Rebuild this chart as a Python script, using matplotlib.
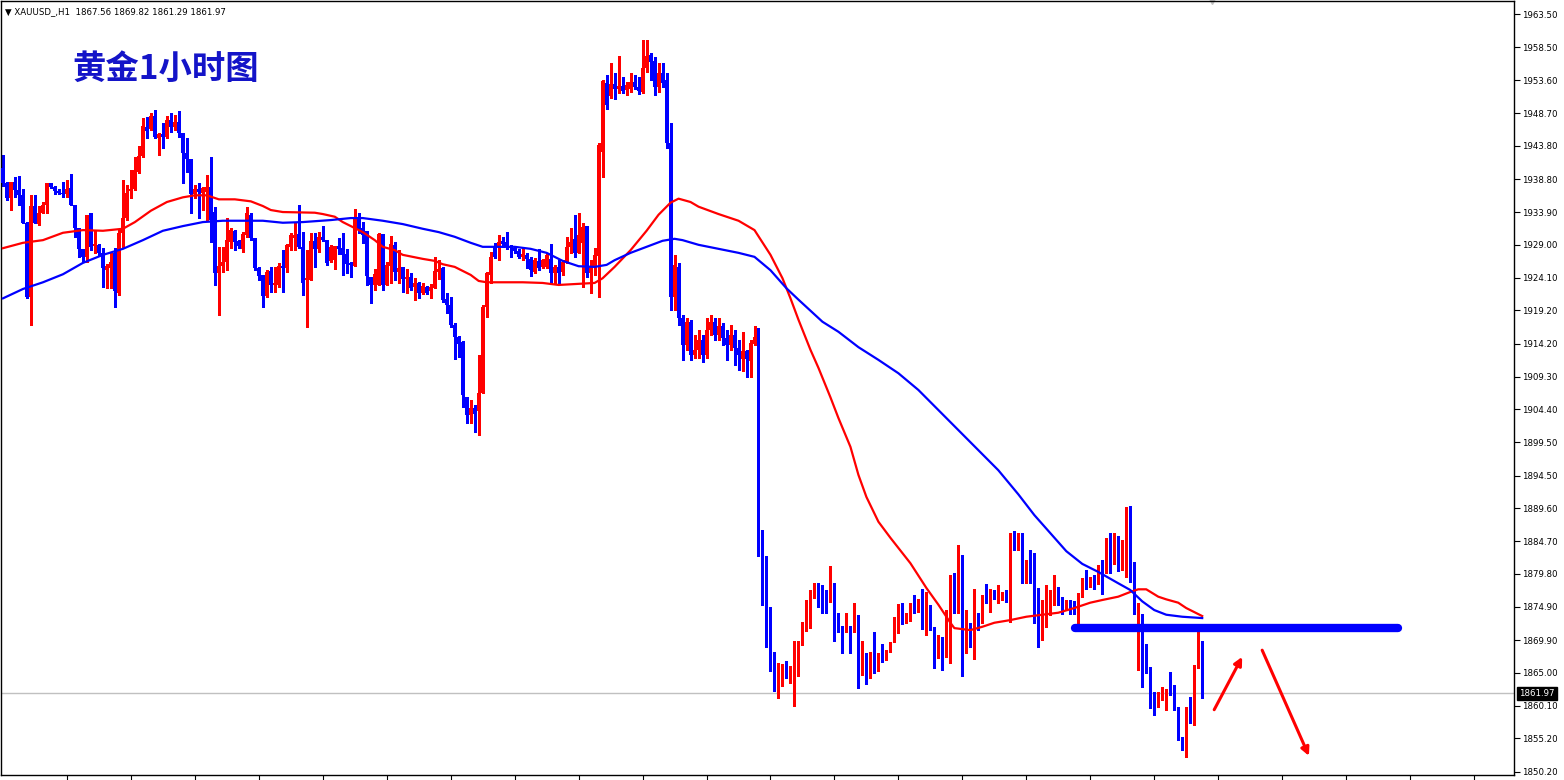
import matplotlib
matplotlib.use('Agg')
import matplotlib.pyplot as plt
import matplotlib.transforms as mtransforms
import numpy as np

plt.rcParams['font.family'] = ['DejaVu Sans']

# XAUUSD H1 candles
opens = [
    1940.5, 1938.2, 1936.0, 1938.4, 1937.2, 1936.4, 1932.3, 1921.2, 1934.8, 1932.1,
    1933.8, 1934.9, 1938.2, 1937.6, 1937.0, 1936.7, 1936.6, 1937.5, 1934.9, 1931.5,
    1928.4, 1927.2, 1933.8, 1928.8, 1929.0, 1927.8, 1925.2, 1925.5, 1927.8, 1921.8,
    1930.8, 1933.0, 1937.0, 1937.4, 1939.9, 1942.3, 1946.6, 1946.3, 1948.3, 1945.0,
    1945.6, 1945.1, 1947.7, 1946.6, 1947.4, 1945.7, 1942.7, 1941.8, 1936.6, 1937.4,
    1936.7, 1936.9, 1937.6, 1933.9, 1924.8, 1925.8, 1926.4, 1929.4, 1931.1, 1929.6,
    1928.4, 1930.5, 1933.5, 1930.0, 1925.5, 1924.5, 1921.3, 1925.1, 1923.0, 1923.0,
    1925.8, 1925.5, 1928.7, 1930.0, 1930.6, 1928.7, 1923.7, 1923.7, 1929.6, 1928.4,
    1930.2, 1929.7, 1926.6, 1926.7, 1928.8, 1928.5, 1927.6, 1926.3, 1925.8, 1933.2,
    1931.5, 1931.1, 1924.2, 1923.0, 1923.0, 1930.6, 1923.0, 1925.8, 1929.0, 1924.9,
    1925.7, 1923.9, 1924.2, 1922.7, 1923.3, 1921.8, 1922.7, 1922.1, 1922.5, 1924.9,
    1925.5, 1920.9, 1920.0, 1917.0, 1915.2, 1914.5, 1906.2, 1903.6, 1904.6, 1904.2,
    1906.8, 1919.7, 1924.5, 1928.7, 1928.7, 1929.6, 1929.4, 1928.8, 1928.5, 1928.1,
    1927.2, 1927.5, 1926.9, 1924.9, 1926.6, 1925.7, 1925.7, 1926.9, 1924.8, 1925.7,
    1924.9, 1926.4, 1928.7, 1929.9, 1927.8, 1929.3, 1931.8, 1924.8, 1925.7, 1927.3,
    1942.9, 1953.2, 1951.2, 1953.0, 1952.3, 1952.7, 1952.1, 1952.3, 1953.3, 1952.6,
    1951.8, 1955.4, 1957.4, 1956.5, 1952.6, 1954.7, 1953.6, 1944.2, 1921.2, 1925.7,
    1918.1, 1914.0, 1917.5, 1912.5, 1913.3, 1914.8, 1912.5, 1916.3, 1917.5, 1915.5,
    1916.9, 1915.1, 1914.0, 1915.5, 1913.6, 1911.9, 1913.1, 1911.6, 1914.2, 1915.1,
    1886.4, 1882.5, 1872.9, 1868.1, 1862.9, 1865.0, 1865.7, 1865.0, 1860.2, 1865.0,
    1869.2, 1872.3, 1873.1, 1876.2, 1878.4, 1877.8, 1876.4, 1875.6, 1877.8, 1872.9,
    1872.0, 1871.3, 1872.0, 1871.3, 1873.7, 1865.6, 1866.2, 1865.4, 1868.0, 1865.3,
    1868.6, 1866.9, 1868.1, 1869.6, 1873.2, 1874.3, 1872.5, 1872.9, 1874.9, 1874.1,
    1875.7, 1872.0, 1873.2, 1871.9, 1867.4, 1870.4, 1869.5, 1870.8, 1879.5, 1874.3,
    1880.5, 1869.0, 1871.6, 1870.1, 1873.1, 1872.5, 1876.4, 1875.6, 1876.8, 1876.0,
    1876.6, 1876.8, 1875.6, 1886.2, 1883.7, 1885.9, 1879.8, 1879.9, 1879.6, 1877.5,
    1873.2, 1874.4, 1875.2, 1875.5, 1877.8, 1876.0, 1874.9, 1875.5, 1875.3, 1873.8,
    1876.5, 1878.9, 1878.3, 1879.3, 1878.7, 1880.7, 1880.1, 1883.8, 1882.8, 1885.5,
    1881.7, 1881.7, 1889.4, 1879.2, 1873.8, 1873.8, 1868.1, 1865.9, 1861.7, 1860.6,
    1861.4, 1862.0, 1862.6, 1861.8, 1859.8, 1855.3, 1853.8, 1859.9, 1859.0, 1866.0,
    1867.56,
]
highs = [
    1942.4, 1938.4, 1938.4, 1939.1, 1939.3, 1937.4, 1932.4, 1936.4, 1936.4, 1934.8,
    1935.4, 1938.2, 1938.2, 1937.8, 1937.4, 1938.4, 1938.7, 1939.6, 1934.9, 1931.5,
    1928.4, 1933.5, 1933.8, 1931.2, 1929.1, 1928.5, 1926.1, 1927.8, 1928.5, 1931.2,
    1938.7, 1937.9, 1940.2, 1942.1, 1943.8, 1948.0, 1948.1, 1948.7, 1949.2, 1945.7,
    1947.2, 1948.3, 1948.7, 1948.4, 1949.0, 1945.7, 1945.0, 1941.8, 1937.9, 1938.2,
    1937.6, 1939.4, 1942.1, 1934.7, 1928.7, 1928.7, 1933.0, 1931.5, 1931.2, 1929.7,
    1930.9, 1934.7, 1933.8, 1930.0, 1925.7, 1924.5, 1925.2, 1925.7, 1925.7, 1926.3,
    1928.2, 1929.1, 1930.8, 1932.3, 1934.9, 1930.9, 1928.2, 1930.8, 1930.8, 1930.9,
    1931.8, 1929.7, 1929.0, 1928.8, 1930.0, 1930.8, 1928.4, 1926.4, 1934.4, 1933.8,
    1932.4, 1931.1, 1924.2, 1925.4, 1930.8, 1930.6, 1926.4, 1930.3, 1929.4, 1928.2,
    1925.7, 1925.4, 1924.8, 1924.0, 1923.4, 1923.3, 1922.9, 1923.1, 1927.2, 1926.7,
    1925.7, 1921.8, 1921.2, 1917.3, 1915.4, 1914.6, 1906.2, 1905.8, 1905.1, 1912.5,
    1920.0, 1924.9, 1927.9, 1929.3, 1930.5, 1930.2, 1930.9, 1929.0, 1928.8, 1928.4,
    1928.7, 1927.8, 1927.2, 1927.0, 1928.4, 1926.9, 1927.8, 1929.1, 1926.0, 1926.7,
    1926.7, 1930.2, 1931.5, 1933.5, 1933.8, 1932.3, 1931.8, 1926.7, 1928.5, 1944.2,
    1953.6, 1954.4, 1956.2, 1954.7, 1957.2, 1954.1, 1953.3, 1954.7, 1954.4, 1954.1,
    1959.6, 1959.6, 1957.7, 1957.1, 1956.2, 1956.2, 1954.7, 1947.2, 1927.5, 1926.3,
    1918.5, 1918.1, 1917.8, 1915.5, 1916.3, 1915.5, 1918.1, 1918.5, 1918.1, 1918.1,
    1917.3, 1916.3, 1917.0, 1916.3, 1914.8, 1916.0, 1913.3, 1914.8, 1916.9, 1916.6,
    1886.4, 1882.5, 1874.9, 1868.1, 1866.5, 1866.3, 1866.8, 1866.0, 1869.8, 1869.8,
    1872.6, 1875.9, 1877.4, 1878.4, 1878.4, 1878.1, 1877.4, 1881.0, 1878.4, 1874.0,
    1872.0, 1874.0, 1872.0, 1875.5, 1873.7, 1869.8, 1868.0, 1868.1, 1871.1, 1868.0,
    1869.3, 1868.4, 1869.6, 1873.4, 1875.3, 1875.5, 1874.0, 1875.5, 1876.6, 1876.0,
    1877.5, 1877.1, 1875.2, 1871.9, 1870.7, 1870.4, 1874.4, 1879.6, 1879.9, 1884.1,
    1882.6, 1874.4, 1872.5, 1877.5, 1874.0, 1876.6, 1878.3, 1877.5, 1877.4, 1878.1,
    1877.1, 1877.4, 1885.9, 1886.2, 1885.9, 1885.9, 1881.9, 1883.4, 1882.9, 1877.7,
    1875.9, 1878.1, 1877.4, 1879.6, 1877.8, 1876.3, 1875.9, 1875.9, 1875.8, 1877.0,
    1879.2, 1880.4, 1879.3, 1879.6, 1881.1, 1881.9, 1885.2, 1885.9, 1885.9, 1885.5,
    1884.9, 1889.8, 1889.9, 1881.6, 1875.5, 1873.8, 1869.3, 1865.9, 1862.1, 1862.1,
    1862.9, 1862.6, 1865.1, 1863.2, 1859.9, 1855.4, 1859.9, 1861.4, 1866.2, 1871.1,
    1869.82,
]
lows = [
    1937.8, 1935.7, 1934.2, 1936.1, 1934.9, 1932.3, 1921.0, 1917.0, 1932.3, 1932.0,
    1933.8, 1933.8, 1937.5, 1936.6, 1936.6, 1936.1, 1936.1, 1934.9, 1930.2, 1927.2,
    1926.4, 1926.4, 1928.2, 1927.8, 1927.5, 1922.7, 1922.5, 1922.5, 1919.7, 1921.5,
    1928.7, 1932.7, 1936.0, 1937.2, 1939.7, 1942.1, 1945.0, 1946.2, 1945.0, 1942.4,
    1943.5, 1945.0, 1945.9, 1946.2, 1945.1, 1938.2, 1939.9, 1933.8, 1936.0, 1933.0,
    1934.2, 1932.7, 1929.4, 1923.0, 1918.5, 1924.9, 1925.2, 1928.5, 1928.2, 1928.5,
    1927.9, 1930.2, 1929.7, 1925.2, 1923.7, 1919.7, 1921.2, 1921.9, 1921.9, 1922.7,
    1921.9, 1924.9, 1928.2, 1928.2, 1928.5, 1921.5, 1916.7, 1923.7, 1925.7, 1927.9,
    1929.6, 1926.0, 1926.4, 1925.4, 1927.6, 1924.5, 1924.8, 1924.2, 1925.8, 1930.8,
    1929.3, 1923.0, 1920.3, 1922.2, 1923.0, 1922.2, 1923.0, 1923.3, 1923.7, 1923.3,
    1921.9, 1921.8, 1922.2, 1920.8, 1921.0, 1921.6, 1921.6, 1921.0, 1922.5, 1923.9,
    1920.5, 1918.8, 1916.7, 1911.9, 1912.2, 1904.8, 1902.4, 1902.4, 1901.0, 1900.6,
    1906.8, 1918.2, 1923.3, 1927.0, 1926.7, 1928.7, 1928.4, 1927.2, 1927.8, 1927.0,
    1926.7, 1925.5, 1924.3, 1924.8, 1925.2, 1925.5, 1925.5, 1923.3, 1923.3, 1923.3,
    1924.5, 1926.3, 1927.8, 1927.2, 1927.8, 1922.7, 1924.2, 1921.8, 1924.5, 1921.2,
    1939.1, 1949.3, 1950.9, 1950.8, 1951.7, 1951.7, 1951.4, 1951.9, 1952.3, 1951.5,
    1951.7, 1954.8, 1953.6, 1951.4, 1951.9, 1952.6, 1943.5, 1919.3, 1919.3, 1917.0,
    1911.8, 1913.3, 1911.8, 1912.1, 1912.1, 1911.5, 1912.1, 1915.5, 1914.8, 1914.8,
    1914.0, 1911.8, 1913.3, 1911.0, 1910.3, 1910.1, 1909.2, 1909.2, 1914.0, 1882.5,
    1875.2, 1868.9, 1865.3, 1862.3, 1861.2, 1863.0, 1864.2, 1863.5, 1860.1, 1864.5,
    1869.2, 1871.3, 1871.7, 1876.2, 1874.9, 1874.0, 1874.0, 1875.6, 1869.8, 1871.1,
    1868.0, 1871.1, 1868.0, 1871.1, 1862.7, 1864.7, 1863.3, 1864.2, 1865.0, 1865.3,
    1866.6, 1866.9, 1868.1, 1869.6, 1871.0, 1872.3, 1872.5, 1872.8, 1874.0, 1874.1,
    1871.6, 1870.7, 1871.4, 1865.7, 1867.2, 1865.4, 1867.4, 1866.5, 1874.0, 1874.0,
    1864.5, 1868.0, 1868.9, 1867.1, 1871.4, 1872.5, 1875.5, 1874.1, 1876.0, 1875.5,
    1875.9, 1875.6, 1872.6, 1883.4, 1883.4, 1878.4, 1878.4, 1878.4, 1872.5, 1868.9,
    1869.9, 1871.9, 1873.7, 1875.2, 1875.2, 1873.8, 1874.4, 1873.8, 1873.8, 1871.9,
    1876.4, 1877.5, 1877.8, 1877.5, 1878.3, 1876.8, 1879.9, 1879.9, 1881.3, 1880.2,
    1880.4, 1879.3, 1878.6, 1873.8, 1865.4, 1862.9, 1865.0, 1859.8, 1858.7, 1859.9,
    1860.9, 1859.5, 1861.7, 1859.5, 1855.0, 1853.5, 1852.4, 1857.5, 1857.2, 1865.7,
    1861.29,
]
closes = [
    1938.2, 1936.0, 1938.4, 1937.2, 1936.4, 1932.3, 1921.2, 1934.8, 1932.3, 1933.8,
    1934.9, 1938.2, 1937.6, 1937.0, 1936.7, 1936.6, 1937.4, 1934.9, 1931.5, 1928.4,
    1927.2, 1933.5, 1928.7, 1929.1, 1927.8, 1925.5, 1925.8, 1926.4, 1922.1, 1930.8,
    1933.0, 1936.7, 1937.4, 1940.2, 1942.3, 1946.8, 1946.0, 1948.3, 1945.1, 1945.6,
    1945.1, 1947.7, 1946.6, 1947.4, 1945.7, 1942.7, 1941.8, 1936.6, 1937.4, 1936.9,
    1937.5, 1937.6, 1932.7, 1924.8, 1925.8, 1926.4, 1929.7, 1931.2, 1929.4, 1928.8,
    1930.6, 1933.8, 1930.0, 1925.5, 1924.3, 1921.3, 1924.9, 1923.0, 1923.3, 1925.8,
    1925.5, 1929.0, 1930.5, 1930.5, 1928.7, 1923.3, 1924.0, 1929.6, 1928.4, 1930.2,
    1929.7, 1926.3, 1928.7, 1928.8, 1928.4, 1927.5, 1926.1, 1926.0, 1933.2, 1931.2,
    1930.5, 1924.3, 1923.0, 1924.6, 1930.6, 1923.0, 1926.0, 1929.1, 1924.9, 1925.5,
    1923.9, 1924.2, 1922.5, 1923.3, 1921.8, 1922.9, 1921.8, 1922.7, 1925.1, 1925.4,
    1920.8, 1920.0, 1917.0, 1915.2, 1914.2, 1906.5, 1903.6, 1904.6, 1903.7, 1906.8,
    1919.7, 1924.8, 1927.2, 1927.2, 1929.4, 1929.1, 1928.7, 1928.5, 1928.1, 1927.2,
    1927.6, 1926.9, 1925.2, 1926.7, 1925.5, 1926.7, 1927.5, 1924.8, 1925.7, 1924.8,
    1926.4, 1928.7, 1929.4, 1927.8, 1930.5, 1931.7, 1924.8, 1925.7, 1927.5, 1943.9,
    1953.5, 1949.9, 1953.0, 1952.3, 1952.7, 1952.0, 1952.9, 1953.3, 1952.6, 1952.0,
    1955.4, 1957.2, 1956.3, 1952.6, 1954.7, 1953.2, 1944.2, 1921.2, 1926.0, 1918.1,
    1914.0, 1917.5, 1912.5, 1913.3, 1914.8, 1912.5, 1916.3, 1917.5, 1915.5, 1916.9,
    1915.1, 1914.0, 1915.5, 1913.6, 1912.5, 1913.1, 1911.9, 1914.3, 1915.2, 1886.5,
    1882.3, 1872.8, 1868.0, 1863.0, 1865.0, 1865.6, 1864.4, 1865.7, 1865.3, 1869.6,
    1872.6, 1873.4, 1876.4, 1878.4, 1877.7, 1876.2, 1875.5, 1878.0, 1872.9, 1871.9,
    1871.3, 1872.0, 1871.3, 1873.7, 1865.4, 1866.2, 1865.6, 1868.0, 1865.4, 1868.0,
    1867.2, 1868.1, 1869.6, 1873.4, 1874.3, 1872.5, 1873.1, 1874.7, 1874.1, 1876.0,
    1872.0, 1873.2, 1871.7, 1867.1, 1870.4, 1869.0, 1870.8, 1879.2, 1874.3, 1880.5,
    1868.9, 1871.6, 1871.1, 1873.5, 1872.5, 1876.4, 1875.6, 1877.0, 1876.2, 1877.0,
    1876.8, 1875.9, 1885.9, 1883.7, 1885.8, 1880.4, 1880.7, 1879.3, 1877.5, 1873.2,
    1874.4, 1875.5, 1876.2, 1877.7, 1875.6, 1874.4, 1875.3, 1874.7, 1874.0, 1876.8,
    1878.7, 1878.3, 1879.3, 1878.9, 1880.7, 1880.1, 1883.7, 1882.8, 1885.3, 1881.7,
    1882.0, 1889.4, 1879.2, 1874.0, 1874.0, 1865.4, 1865.9, 1861.7, 1860.5, 1861.4,
    1862.1, 1862.6, 1861.8, 1859.8, 1855.1, 1853.8, 1859.9, 1859.0, 1866.0, 1867.5,
    1861.97,
]

# moving averages, sampled along the bar index
ma_fast_idx = [0, 5, 10, 15, 20, 25, 30, 33, 37, 41, 45, 48, 51, 54, 58, 62, 65, 67, 70, 78,
               80, 83, 85, 88, 90, 93, 95, 98, 100, 105, 108, 110, 113, 117, 119, 121, 130, 135, 139, 142,
               148, 150, 153, 157, 161, 164, 167, 169, 172, 174, 179, 184, 188, 192, 195, 197, 199, 202, 204, 207,
               209, 212, 214, 216, 219, 222, 227, 231, 234, 237, 238, 242, 245, 248, 252, 256, 260, 264, 268, 272,
               275, 279, 282, 284, 286, 289, 291, 294, 296, 299, 300]
ma_fast = [1928.5, 1929.3, 1929.7, 1930.8, 1931.2, 1931.1, 1931.4, 1932.4, 1934.1, 1935.4,
           1936.1, 1936.4, 1936.4, 1935.8, 1935.8, 1935.5, 1934.8, 1934.2, 1933.9, 1933.8,
           1933.6, 1933.2, 1932.4, 1931.5, 1930.9, 1929.7, 1928.7, 1928.2, 1927.5, 1926.9,
           1926.6, 1926.1, 1925.7, 1924.5, 1923.6, 1923.4, 1923.4, 1923.3, 1923.0, 1923.1,
           1923.3, 1924.0, 1925.7, 1928.2, 1931.1, 1933.5, 1935.3, 1935.9, 1935.4, 1934.7,
           1933.6, 1932.6, 1931.2, 1927.5, 1924.0, 1921.0, 1917.8, 1913.3, 1910.6, 1906.2,
           1903.1, 1898.8, 1894.6, 1891.3, 1887.6, 1885.2, 1881.4, 1877.7, 1875.2, 1872.5,
           1871.7, 1871.4, 1871.9, 1872.5, 1872.9, 1873.4, 1873.7, 1874.0, 1874.7, 1875.5,
           1875.9, 1876.4, 1877.1, 1877.5, 1877.5, 1876.4, 1876.0, 1875.5, 1874.7, 1873.8,
           1873.5]
ma_slow_idx = [0, 5, 10, 15, 20, 25, 30, 35, 40, 45, 50, 55, 65, 70, 75, 82, 87, 90, 95, 100,
               105, 109, 113, 117, 120, 128, 132, 136, 140, 144, 148, 151, 153, 157, 161, 165, 168, 170, 174, 179,
               184, 188, 192, 196, 199, 205, 209, 214, 219, 224, 229, 234, 239, 244, 249, 254, 258, 262, 266, 270,
               274, 279, 282, 285, 288, 291, 295, 300]
ma_slow = [1921.0, 1922.4, 1923.4, 1924.6, 1926.3, 1927.5, 1928.4, 1929.7, 1931.1, 1931.8,
           1932.4, 1932.6, 1932.6, 1932.3, 1932.4, 1932.7, 1933.0, 1933.0, 1932.6, 1932.1,
           1931.4, 1930.9, 1930.2, 1929.3, 1928.7, 1928.7, 1928.4, 1927.8, 1926.6, 1925.8,
           1925.7, 1926.0, 1926.7, 1927.8, 1928.7, 1929.6, 1929.9, 1929.7, 1929.0, 1928.4,
           1927.8, 1927.2, 1925.2, 1922.5, 1920.8, 1917.5, 1916.0, 1913.7, 1911.8, 1909.8,
           1907.3, 1904.3, 1901.3, 1898.3, 1895.3, 1891.7, 1888.6, 1885.9, 1883.2, 1881.3,
           1880.1, 1878.4, 1877.4, 1875.7, 1874.4, 1873.7, 1873.4, 1873.2]

# hand drawn annotations (bar index, price)
level_price = 1871.7
level_span = [268.3, 349.0]
arrow_up = [(303.0, 1859.5), (310.0, 1867.4)]
arrow_down = [(315.0, 1868.4), (326.7, 1852.6)]

ytick_vals = [1963.50, 1958.50, 1953.60, 1948.70, 1943.80, 1938.80, 1933.90, 1929.00,
              1924.10, 1919.20, 1914.20, 1909.30, 1904.40, 1899.50, 1894.50, 1889.60,
              1884.70, 1879.80, 1874.90, 1869.90, 1865.00, 1860.10, 1855.20, 1850.20]

header = '\u25bc XAUUSD_,H1  1867.56 1869.82 1861.29 1861.97'
title = '黄金1小时图'

o = np.array(opens)
h = np.array(highs)
l = np.array(lows)
c = np.array(closes)
x = np.arange(len(c))
cols = np.where(c >= o, '#ff0000', '#0000ff')

fig = plt.figure(figsize=(15.64, 7.8), dpi=100)
ax = fig.add_axes([1 / 1564, 5 / 780, 1513 / 1564, 774 / 780])

ax.axhline(c[-1], color='#c0c0c0', lw=1, zorder=1)
ax.vlines(x, l, h, colors=cols, lw=1.0, zorder=2, antialiased=False)
ax.bar(x, np.maximum(np.abs(c - o), 0.15), bottom=np.minimum(o, c), width=0.78,
       color=cols, linewidth=0, zorder=3, antialiased=False)

ax.plot(ma_fast_idx, ma_fast, color='#ff0000', lw=1.6, zorder=4)
ax.plot(ma_slow_idx, ma_slow, color='#0000ff', lw=1.6, zorder=4)

ax.plot(level_span, [level_price, level_price], color='#0000ff', lw=6,
        solid_capstyle='round', zorder=5)
for (x0, y0), (x1, y1) in [arrow_up, arrow_down]:
    ax.annotate('', xy=(x1, y1), xytext=(x0, y0),
                arrowprops=dict(arrowstyle='-|>', color='#ff0000', lw=2.2,
                                mutation_scale=12, shrinkA=0, shrinkB=0), zorder=6)

ax.set_xlim(-0.5, 378)
ax.set_ylim(1849.74, 1965.45)

ax.yaxis.tick_right()
ax.set_yticks(ytick_vals)
ax.set_yticklabels(['%.2f' % v for v in ytick_vals])
ax.tick_params(axis='y', direction='out', length=4, width=0.8, pad=2, labelsize=6.2)
ax.set_xticks(np.arange(16, 378, 16))
ax.tick_params(axis='x', direction='out', length=4, width=0.8, labelbottom=False)
for s in ax.spines.values():
    s.set_color('black')
    s.set_linewidth(1)

# current price tag
tr = mtransforms.blended_transform_factory(ax.transAxes, ax.transData)
ax.text(1.0035, c[-1], '%.2f' % c[-1], transform=tr, color='white', fontsize=6.2,
        va='center', ha='left', clip_on=False,
        bbox=dict(facecolor='black', edgecolor='black', pad=1.4))

# small shift marker at the top
ax.plot([len(c) + 1.5], [1], marker='v', color='#c0c0c0', markersize=5,
        transform=mtransforms.blended_transform_factory(ax.transData, ax.transAxes),
        clip_on=False)

fig.text(5 / 1564, 1 - 12 / 780, header, fontsize=6.2, va='center', ha='left')
fig.text(72 / 1564, 1 - 69 / 780, title, fontsize=24, fontweight='bold', color='#1414c8',
         family=['Noto Sans CJK SC', 'DejaVu Sans'], va='center', ha='left')

fig.savefig('out.png', dpi=100)
